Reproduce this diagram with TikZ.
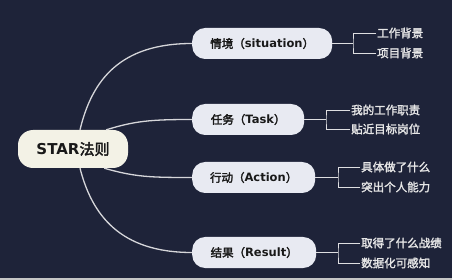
\documentclass[tikz,border=0pt]{standalone}
\usepackage{fontspec}
\setmainfont{DejaVu Sans}
\newfontfamily\cjk[AutoFakeBold=2.5]{Noto Sans CJK SC}
\newfontfamily\cjkb[FakeBold=2]{Noto Sans CJK SC}
\usepackage{xcolor}
\usepackage{tikz}
\usetikzlibrary{positioning, calc}

\definecolor{bgnavy}{HTML}{1E2339}
\definecolor{rootfill}{HTML}{F3F2E6}
\definecolor{topicfill}{HTML}{E8EAF2}
\definecolor{linegray}{HTML}{D6D6DA}
\definecolor{leafgray}{HTML}{E6E6E6}

\tikzset{
  root/.style={draw=none, fill=rootfill, rounded corners=15pt, minimum width=110pt, minimum height=38pt, font=\fontsize{15}{17}\selectfont\bfseries, text=black!90},
  topic/.style={draw=none, fill=topicfill, rounded corners=13pt, minimum height=31pt, anchor=west, font=\fontsize{11.5}{13}\selectfont\bfseries, text=black!90},
  leaf/.style={anchor=west, inner sep=1pt, font=\fontsize{11.5}{13}\selectfont\cjkb, text=leafgray},
  branch/.style={linegray, line width=1.3pt},
  bracket/.style={linegray!80, line width=0.8pt}
}

\begin{document}
\begin{tikzpicture}[x=1pt, y=-1pt]
\useasboundingbox (0,0) rectangle (452,280);
\fill[bgnavy] (0,0) rectangle (452,280);
\fill[gray!45] (0,278) rectangle (452,280);

% Center
\node[root] (star) at (73,149) {STAR{\cjk 法则}};

% Topics
\node[topic, minimum width=140pt] (sit) at (192,43.5) {{\cjk 情境（}situation{\cjk ）}};
\node[topic, minimum width=112pt] (task) at (192,119.5) {{\cjk 任务（}Task{\cjk ）}};
\node[topic, minimum width=123pt] (act) at (192,177.5) {{\cjk 行动（}Action{\cjk ）}};
\node[topic, minimum width=124pt] (res) at (192,252.5) {{\cjk 结果（}Result{\cjk ）}};

% Curves from the center
\draw[branch] ($(star.north)+(7,0)$) .. controls (92,80) and (120,43.5) .. (sit.west);
\draw[branch] ($(star.north east)+(-22,0)$) .. controls (135,121) and (150,119.5) .. (task.west);
\draw[branch] ($(star.south east)+(-24,0)$) .. controls (135,177) and (150,177.5) .. (act.west);
\draw[branch] ($(star.south)+(7,0)$) .. controls (92,215) and (120,252.5) .. (res.west);

% Leaves
\node[leaf] (s1) at (376,33) {工作背景};
\node[leaf] (s2) at (376,53) {项目背景};
\node[leaf] (t1) at (350,110) {我的工作职责};
\node[leaf] (t2) at (350,129) {贴近目标岗位};
\node[leaf] (a1) at (360,167) {具体做了什么};
\node[leaf] (a2) at (360,187) {突出个人能力};
\node[leaf] (r1) at (360,243) {取得了什么战绩};
\node[leaf] (r2) at (360,263) {数据化可感知};

% Brackets
\coordinate (sj) at (353,43.5);
\coordinate (tj) at (326,119.5);
\coordinate (aj) at (338,177.5);
\coordinate (rj) at (338,252.5);
\foreach \t/\j/\u/\v in {sit/sj/s1/s2, task/tj/t1/t2, act/aj/a1/a2, res/rj/r1/r2} {
    \draw[bracket] (\t.east) -- (\j);
    \draw[bracket] (\u.west) -| (\j) |- (\v.west);
}

\end{tikzpicture}
\end{document}
